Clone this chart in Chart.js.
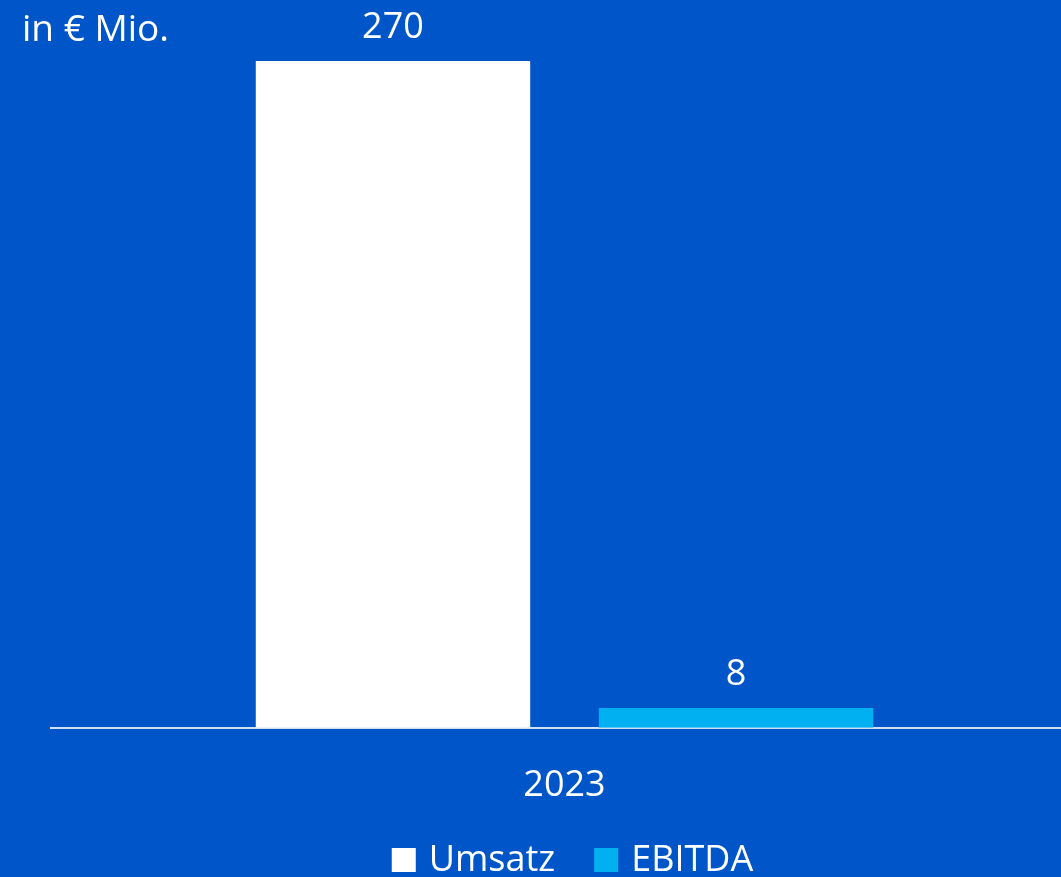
<!DOCTYPE html>
<html>
<head>
<meta charset="utf-8">
<script src="https://cdn.jsdelivr.net/npm/chart.js@4/dist/chart.umd.min.js"></script>
<style>
html,body{margin:0;padding:0;background:#0055C8;overflow:hidden;}
#wrap{position:relative;width:1078px;height:877px;}
</style>
</head>
<body>
<div id="wrap"><canvas id="c"></canvas></div>
<script>
const categories = ['2023'];
const seriesNames = ['Umsatz', 'EBITDA'];
const umsatz = [270];
const ebitda = [8];
const unitLabel = 'in € Mio.';

const FONT = '"Open Sans", "Noto Sans", sans-serif';
const COLORS = ['#FFFFFF', '#00B0F0'];

const bgPlugin = {
  id: 'bg',
  beforeDraw(chart) {
    const ctx = chart.ctx;
    ctx.save();
    ctx.fillStyle = '#0055C8';
    ctx.fillRect(0, 0, chart.width, chart.height);
    ctx.restore();
  }
};

const labelPlugin = {
  id: 'vals',
  afterDatasetsDraw(chart) {
    const ctx = chart.ctx;
    ctx.save();
    ctx.fillStyle = '#ffffff';
    ctx.font = '36px ' + FONT;
    ctx.textAlign = 'center';
    ctx.textBaseline = 'alphabetic';
    chart.data.datasets.forEach((ds, i) => {
      const meta = chart.getDatasetMeta(i);
      meta.data.forEach((bar, j) => {
        ctx.fillText(String(ds.data[j]), bar.x, bar.y - 23);
      });
    });
    ctx.textAlign = 'left';
    ctx.font = '37px ' + FONT;
    ctx.fillText(unitLabel, 22, 41);

    // legend
    ctx.font = '36px ' + FONT;
    const box = 24, gap = 13, itemGap = 39;
    const items = chart.data.datasets.map(ds => ({ text: ds.label, color: ds.backgroundColor, w: ctx.measureText(ds.label).width }));
    let total = 0;
    items.forEach((it, k) => { total += box + gap + it.w + (k < items.length - 1 ? itemGap : 0); });
    const center = (chart.chartArea.left + chart.chartArea.right) / 2 + 8;
    let x = center - total / 2;
    const boxTop = 848;
    items.forEach(it => {
      ctx.fillStyle = it.color;
      ctx.fillRect(x, boxTop, box, box);
      ctx.fillStyle = '#ffffff';
      ctx.fillText(it.text, x + box + gap, boxTop + box - 1);
      x += box + gap + it.w + itemGap;
    });
    ctx.restore();
  }
};

new Chart(document.getElementById('c'), {
  type: 'bar',
  data: {
    labels: categories,
    datasets: [
      { label: seriesNames[0], data: umsatz, backgroundColor: COLORS[0], borderWidth: 0 },
      { label: seriesNames[1], data: ebitda, backgroundColor: COLORS[1], borderWidth: 0 }
    ]
  },
  options: {
    responsive: true,
    maintainAspectRatio: false,
    animation: false,
    datasets: { bar: { categoryPercentage: 0.668, barPercentage: 0.8 } },
    layout: { padding: { left: 51, right: 0, top: 61, bottom: 34 } },
    plugins: {
      legend: { display: false },
      tooltip: { enabled: false }
    },
    scales: {
      x: {
        grid: { display: false, drawTicks: false },
        border: { display: true, color: '#D0E0F5', width: 2 },
        ticks: { color: '#ffffff', font: { family: FONT, size: 36 }, padding: 36 }
      },
      y: {
        display: false,
        min: 0,
        max: 270
      }
    }
  },
  plugins: [bgPlugin, labelPlugin]
});
</script>
</body>
</html>
